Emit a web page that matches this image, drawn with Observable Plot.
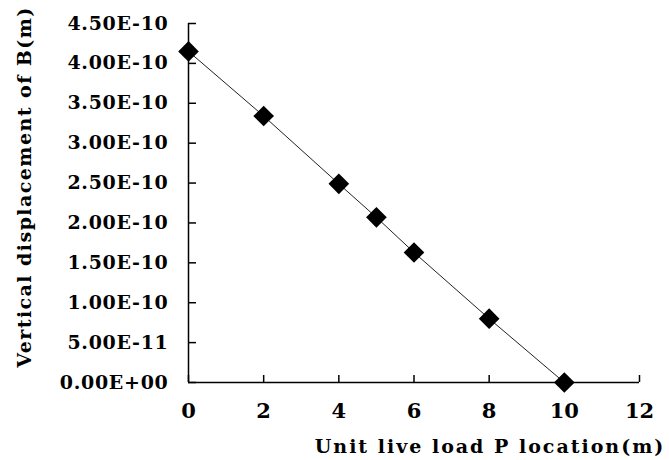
<!DOCTYPE html>
<html>
<head>
<meta charset="utf-8">
<script src="https://cdn.jsdelivr.net/npm/d3@7"></script>
<script src="https://cdn.jsdelivr.net/npm/@observablehq/plot@0.6"></script>
<style>
  html, body { margin: 0; padding: 0; background: #fff; }
  #chart svg { display: block; }
</style>
</head>
<body>
<div id="chart"></div>
<script>
const positions = [0, 2, 4, 5, 6, 8, 10];
const displacement = [4.15e-10, 3.34e-10, 2.49e-10, 2.07e-10, 1.63e-10, 0.80e-10, 0];
const xTicks = [0, 2, 4, 6, 8, 10, 12];
const yTicks = [0, 0.5e-10, 1.0e-10, 1.5e-10, 2.0e-10, 2.5e-10, 3.0e-10, 3.5e-10, 4.0e-10, 4.5e-10];
const yTickLabels = ["0.00E+00", "5.00E-11", "1.00E-10", "1.50E-10", "2.00E-10", "2.50E-10", "3.00E-10", "3.50E-10", "4.00E-10", "4.50E-10"];
const xLabel = "Unit live load P location(m)";
const yLabel = "Vertical displacement of B(m)";

const data = positions.map((x, i) => ({x, y: displacement[i]}));
const yTickData = yTicks.map((v, i) => ({v, label: yTickLabels[i]}));

const W = 669, H = 460;
const mL = 188, mR = 30, mT = 23, mB = 78;
const plotW = W - mL - mR, plotH = H - mT - mB;
const FONT = "'DejaVu Serif', serif";

const chart = Plot.plot({
  width: W,
  height: H,
  marginLeft: mL,
  marginRight: mR,
  marginTop: mT,
  marginBottom: mB,
  style: {fontFamily: FONT, fontWeight: "bold", background: "#fff", color: "#000"},
  x: {domain: [0, 12], axis: null},
  y: {domain: [0, 4.5e-10], axis: null},
  marks: [
    Plot.tickX(xTicks, {x: d => d, insetTop: plotH - 7, stroke: "#000", strokeWidth: 1.5}),
    Plot.tickY(yTicks, {y: d => d, insetRight: plotW - 8, stroke: "#000", strokeWidth: 1.5}),
    Plot.ruleX([0], {stroke: "#000", strokeWidth: 1.5}),
    Plot.ruleY([0], {stroke: "#000", strokeWidth: 1.5}),
    Plot.text(yTickData, {x: () => 0, y: "v", text: "label", textAnchor: "end", dx: -20, fontSize: 19, lineAnchor: "middle", fill: "#000"}),
    Plot.text(xTicks, {x: d => d, y: () => 0, text: d => String(d), dy: 29, fontSize: 21, lineAnchor: "middle", fill: "#000"}),
    Plot.line(data, {x: "x", y: "y", stroke: "#222", strokeWidth: 1}),
    Plot.dot(data, {x: "x", y: "y", symbol: "diamond2", r: 9.3, fill: "#000", stroke: "none"}),
    Plot.text([xLabel], {text: d => d, frameAnchor: "bottom", textAnchor: "middle", dx: 76, dy: 64, fontSize: 19, lineAnchor: "middle", fill: "#000"}),
    Plot.text([yLabel], {text: d => d, frameAnchor: "left", textAnchor: "middle", dx: -164, dy: -16, rotate: -90, fontSize: 19, lineAnchor: "middle", fill: "#000"})
  ]
});

// letter spacing to mimic the wide CJK-style font of the original
const spacing = new Map([[xLabel, "2px"], [yLabel, "1.45px"]]);
yTickLabels.forEach(l => spacing.set(l, "0.7px"));
d3.select(chart).selectAll("text").each(function() {
  const s = spacing.get(this.textContent);
  if (s) d3.select(this).style("letter-spacing", s);
});
document.getElementById("chart").appendChild(chart);
</script>
</body>
</html>
